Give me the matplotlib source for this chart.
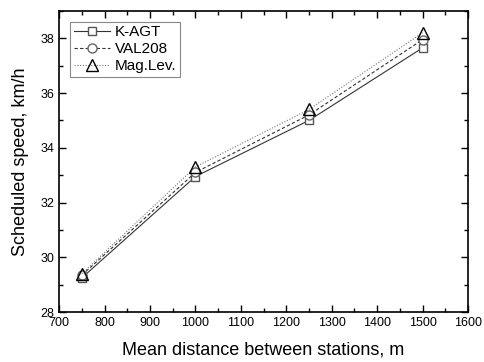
import matplotlib.pyplot as plt
from matplotlib.ticker import MultipleLocator

plt.rcParams['font.family'] = ['Liberation Sans', 'DejaVu Sans']

distancia = [750, 1000, 1250, 1500]
kagt = [29.25, 32.95, 35.0, 37.65]
val208 = [29.35, 33.1, 35.2, 37.95]
maglev = [29.4, 33.3, 35.4, 38.2]

fig = plt.figure(figsize=(4.85, 3.62), dpi=100)
ax = fig.add_axes([0.122, 0.138, 0.843, 0.832])

ax.plot(distancia, kagt, color='#333333', lw=0.8, ls='-', marker='s',
        mfc='white', mec='#555555', ms=6, label='K-AGT')
ax.plot(distancia, val208, color='#333333', lw=0.8, ls=(0, (3, 2)), marker='o',
        mfc='white', mec='#666666', ms=6.5, label='VAL208')
ax.plot(distancia, maglev, color='#777777', lw=0.8, ls=(0, (1, 1.5)), marker='^',
        mfc='none', mec='black', ms=8, label='Mag.Lev.')

ax.set_xlim(700, 1600)
ax.set_ylim(28, 39)
ax.xaxis.set_major_locator(MultipleLocator(100))
ax.xaxis.set_minor_locator(MultipleLocator(50))
ax.yaxis.set_major_locator(MultipleLocator(2))
ax.yaxis.set_minor_locator(MultipleLocator(1))
ax.tick_params(which='both', direction='in', top=True, right=True, labelsize=9, width=1)
ax.tick_params(which='major', length=5)
ax.tick_params(which='minor', length=3)
for s in ax.spines.values():
    s.set_linewidth(1.2)

ax.set_xlabel('Mean distance between stations, m', fontsize=13, labelpad=9)
ax.set_ylabel('Scheduled speed, km/h', fontsize=13, labelpad=8)

leg = ax.legend(loc='upper left', fontsize=11, fancybox=False, framealpha=1,
                edgecolor='#888888', handlelength=2.4, handletextpad=0.3,
                borderpad=0.25, labelspacing=0.2, borderaxespad=0.7)
leg.get_frame().set_linewidth(0.8)

fig.savefig('out.png', dpi=100)
